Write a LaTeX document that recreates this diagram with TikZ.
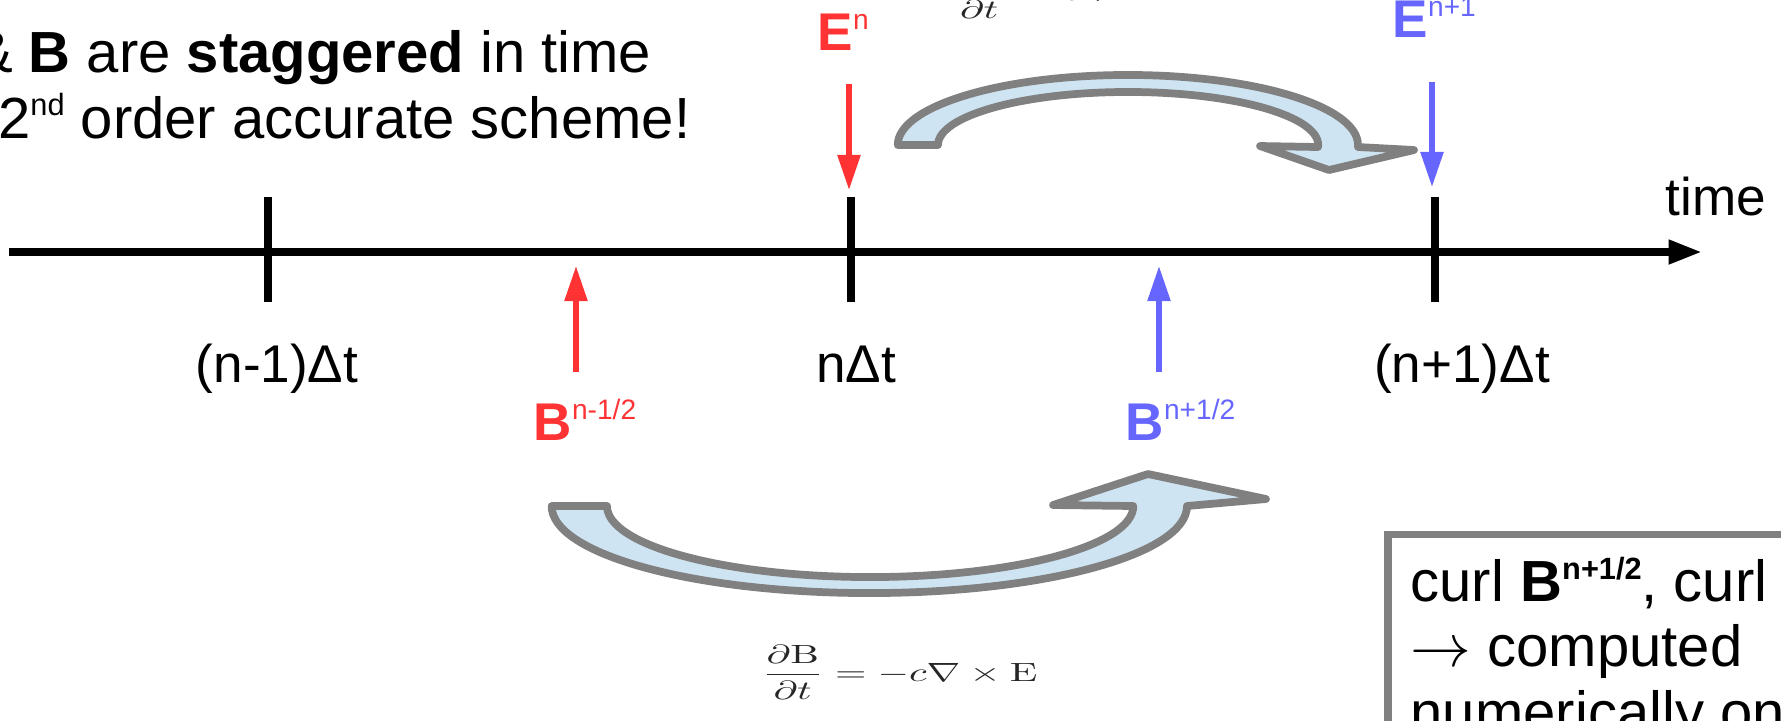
\documentclass[tikz,border=0pt]{standalone}
\usepackage[no-math]{fontspec}
\setmainfont{Liberation Sans}
\usepackage{graphicx}
\usetikzlibrary{arrows.meta,fit}

\definecolor{ered}{HTML}{FF3333}
\definecolor{bblue}{HTML}{6666FF}
\definecolor{bandfill}{HTML}{CFE4F2}
\definecolor{bandline}{HTML}{808080}

\newcommand{\idx}[1]{\raisebox{0.38em}{\scalebox{0.53}{#1}}}

\begin{document}
\begin{tikzpicture}[
    x=0.01cm, y=-0.01cm,
    lab/.style={
        font=\fontsize{15.1}{18}\selectfont,
        inner sep=0pt
    },
    big text/.style={
        font=\fontsize{16.5}{18.5}\selectfont,
        inner sep=0pt
    },
    axis line/.style={
        line width=2.2pt,
        -{Triangle[length=9.5pt,width=6.5pt]}
    },
    tick mark/.style={
        line width=2.1pt
    },
    field arrow/.style={
        line width=1.5pt,
        -{Triangle[length=10pt,width=6.3pt]}
    },
    band arrow/.style={
        draw=bandline,
        fill=bandfill,
        line width=2.2pt,
        line join=round
    },
    formula/.style={
        inner sep=0pt,
        text=black!85
    }
]

\useasboundingbox (0,0) rectangle (1781,720);
\clip (0,0) rectangle (1781,720);

% Texto principal
\node[big text, anchor=base east] (stagger) at (652,72)
    {\& \textbf{B} are \textbf{staggered} in time};
\node[big text, anchor=base east] (order) at (691,138)
    {2\idx{nd} order accurate scheme!};

% Eje temporal
\coordinate (axis from) at (9,252);
\coordinate (axis to) at (1702,252);
\draw[axis line] (axis from) -- (axis to);
\node[lab, anchor=base] (timelab) at (1716,215) {time};

\foreach \xt in {268,851,1435}
    \draw[tick mark] (\xt,197) -- (\xt,302);

\node[lab, anchor=base] (lblm) at (277,382) {(n-1)Δt};
\node[lab, anchor=base] (lbln) at (856,382) {nΔt};
\node[lab, anchor=base] (lblp) at (1462,382) {(n+1)Δt};

% Campo E
\node[lab, text=ered, anchor=base west] (En) at (817,50) {\textbf{E}\idx{n}};
\node[lab, text=bblue, anchor=base west] (Enp) at (1392,37) {\textbf{E}\idx{n+1}};
\coordinate (En from) at (849,84);
\coordinate (En to) at (849,190);
\coordinate (Enp from) at (1432,82);
\coordinate (Enp to) at (1432,187);
\draw[field arrow, ered] (En from) -- (En to);
\draw[field arrow, bblue] (Enp from) -- (Enp to);

% Campo B
\node[lab, text=ered, anchor=base west] (Bm) at (533,440) {\textbf{B}\idx{n-1/2}};
\node[lab, text=bblue, anchor=base west] (Bp) at (1125,440) {\textbf{B}\idx{n+1/2}};
\coordinate (Bm from) at (576,372);
\coordinate (Bm to) at (576,266);
\coordinate (Bp from) at (1159,372);
\coordinate (Bp to) at (1159,266);
\draw[field arrow, ered] (Bm from) -- (Bm to);
\draw[field arrow, bblue] (Bp from) -- (Bp to);

% Flechas curvas
\draw[band arrow] (898,145) -- (938,145)
    arc[start angle=180, end angle=0, x radius=1.9cm, y radius=0.53cm]
    -- (1318,147) -- (1260,146) -- (1329,170) -- (1414,150) -- (1358,147) -- (1358,145)
    arc[start angle=0, end angle=180, x radius=2.3cm, y radius=0.7cm] -- cycle;
\draw[band arrow] (552,506) -- (607,506)
    arc[start angle=180, end angle=360, x radius=2.63cm, y radius=0.71cm]
    -- (1053,505) -- (1148,474) -- (1266,499) -- (1187,506)
    arc[start angle=360, end angle=180, x radius=3.175cm, y radius=0.87cm] -- cycle;

% Ecuaciones
\node[formula, anchor=west] (ampere) at (948,-9)
    {\scalebox{1.15}[0.75]{$\displaystyle\frac{\partial\mathrm{E}}{\partial t}=c\nabla\times\mathrm{B}$}};
\node[formula, anchor=west] (faraday) at (761,672)
    {\scalebox{1.15}[0.75]{$\displaystyle\frac{\partial\mathrm{B}}{\partial t}=-c\nabla\times\mathrm{E}$}};

% Recuadro
\node[big text, anchor=base west, align=left] (curltext) at (1410,732)
    {curl \textbf{B\idx{n+1/2}}, curl\\
     $\rightarrow$ computed\\
     numerically on};
\node[draw=bandline, line width=2pt, fit=(curltext), inner sep=0.22cm] (curlbox) {};

\end{tikzpicture}
\end{document}
